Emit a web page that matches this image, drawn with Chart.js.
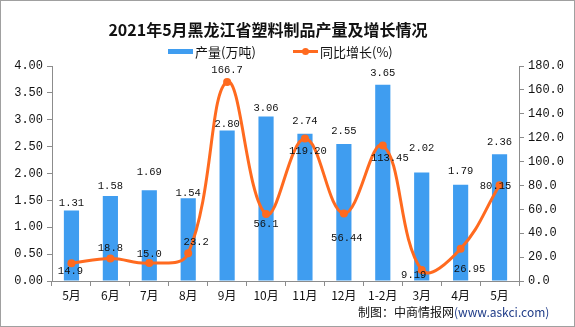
<!DOCTYPE html>
<html><head><meta charset="utf-8">
<script src="https://cdn.jsdelivr.net/npm/chart.js@4.4.1/dist/chart.umd.min.js"></script>
<style>html,body{margin:0;padding:0;background:#fff;}#wrap{width:575px;height:327px;position:relative;}</style>
</head><body><div id="wrap"><canvas id="c" width="575" height="327"></canvas></div>
<script>
const categories = ['5月','6月','7月','8月','9月','10月','11月','12月','1-2月','3月','4月','5月'];
const output = [1.31,1.58,1.69,1.54,2.80,3.06,2.74,2.55,3.65,2.02,1.79,2.36];
const outputLabels = ['1.31','1.58','1.69','1.54','2.80','3.06','2.74','2.55','3.65','2.02','1.79','2.36'];
const growth = [14.9,18.8,15.0,23.2,166.7,56.1,119.20,56.44,113.45,9.19,26.95,80.15];
const growthLabels = ['14.9','18.8','15.0','23.2','166.7','56.1','119.20','56.44','113.45','9.19','26.95','80.15'];
const titleText = '2021年5月黑龙江省塑料制品产量及增长情况';
const legendBar = '产量(万吨)';
const legendLine = '同比增长(%)';

// label placement (style)
const barLabelDy = [-7,-10,-18,-5,-6,-8,-13,-13,-12,-24,-14,-12];
const lineLabelOff = [[-1,8],[0,-10],[0,-9],[8,-11],[0,-12],[0,10],[3,13],[3,25],[7,13],[-8,5],[9,20],[-4,1]];

const BLUE = '#3F9DF0', ORANGE = '#FF6A1F', AXIS = '#8C8C8C';
const monoFont = '"Liberation Mono", "DejaVu Sans Mono", monospace';
const cjkFont = '"Noto Sans CJK SC", sans-serif';

const decor = {
  id: 'decor',
  afterDraw(chart) {
    const ctx = chart.ctx;
    ctx.save();
    // title
    ctx.fillStyle = '#111';
    ctx.font = 'bold 16px ' + cjkFont;
    ctx.textAlign = 'center'; ctx.textBaseline = 'middle';
    ctx.fillText(titleText, 268, 30);
    // legend
    ctx.fillStyle = BLUE; ctx.fillRect(168, 49, 25, 5);
    ctx.fillStyle = '#111'; ctx.font = '13px ' + cjkFont; ctx.textAlign = 'left';
    ctx.fillText(legendBar, 195, 52);
    ctx.strokeStyle = ORANGE; ctx.lineWidth = 3;
    ctx.beginPath(); ctx.moveTo(293, 51.5); ctx.lineTo(318, 51.5); ctx.stroke();
    ctx.fillStyle = ORANGE; ctx.beginPath(); ctx.arc(305.5, 51.5, 3.5, 0, Math.PI*2); ctx.fill();
    ctx.fillStyle = '#111'; ctx.fillText(legendLine, 320, 52);
    // footer
    ctx.font = '12px ' + cjkFont;
    ctx.fillStyle = '#111'; ctx.textAlign = 'left';
    const f1 = '制图：中商情报网';
    ctx.fillText(f1, 358, 312);
    const w1 = ctx.measureText(f1).width;
    ctx.fillStyle = '#1F3C88';
    ctx.fillText('(www.askci.com)', 358 + w1, 312);
    // border
    ctx.strokeStyle = '#A0A0A0'; ctx.lineWidth = 1;
    ctx.strokeRect(0.5, 0.5, 574, 326);
    ctx.restore();
  },
  afterDatasetsDraw(chart) {
    const ctx = chart.ctx;
    ctx.save();
    ctx.fillStyle = '#111';
    ctx.font = '10.5px ' + monoFont;
    ctx.textAlign = 'center'; ctx.textBaseline = 'middle';
    const barMeta = chart.getDatasetMeta(1);
    barMeta.data.forEach((el, i) => {
      ctx.fillText(outputLabels[i], el.x, el.y + barLabelDy[i]);
    });
    const lineMeta = chart.getDatasetMeta(0);
    lineMeta.data.forEach((el, i) => {
      ctx.fillText(growthLabels[i], el.x + lineLabelOff[i][0], el.y + lineLabelOff[i][1]);
    });
    ctx.restore();
  }
};

new Chart(document.getElementById('c'), {
  data: {
    labels: categories,
    datasets: [
      { type: 'line', label: legendLine, data: growth, yAxisID: 'y2', order: 0,
        borderColor: ORANGE, backgroundColor: ORANGE, borderWidth: 3, tension: 0.4,
        pointRadius: 4, pointBackgroundColor: ORANGE, pointBorderColor: ORANGE, pointBorderWidth: 0 },
      { type: 'bar', label: legendBar, data: output, yAxisID: 'y', order: 1,
        backgroundColor: BLUE, barPercentage: 0.39, categoryPercentage: 1 }
    ]
  },
  options: {
    responsive: false, animation: false, devicePixelRatio: 1,
    layout: { padding: { top: 66, left: 0, right: 0, bottom: 0 } },
    plugins: { legend: { display: false }, title: { display: false }, tooltip: { enabled: false } },
    scales: {
      x: {
        offset: true,
        grid: { offset: true, drawOnChartArea: false, drawTicks: true, tickLength: 5, color: AXIS },
        border: { color: AXIS },
        ticks: { color: '#111', font: { family: cjkFont, size: 12 }, padding: 2, maxRotation: 0, autoSkip: false },
        afterFit(s) { s.height = 46; }
      },
      y: {
        position: 'left', min: 0, max: 4,
        grid: { drawOnChartArea: false, drawTicks: true, tickLength: 5, color: AXIS },
        border: { color: AXIS },
        ticks: { stepSize: 0.5, color: '#111', font: { family: monoFont, size: 12 }, padding: 4,
                 callback: v => Number(v).toFixed(2) },
        afterFit(s) { s.width = 52; }
      },
      y2: {
        position: 'right', min: 0, max: 180,
        grid: { drawOnChartArea: false, drawTicks: true, tickLength: 5, color: AXIS },
        border: { color: AXIS },
        ticks: { stepSize: 20, color: '#111', font: { family: monoFont, size: 12 }, padding: 4,
                 callback: v => Number(v).toFixed(1) },
        afterFit(s) { s.width = 56; }
      }
    }
  },
  plugins: [decor]
});
</script></body></html>
